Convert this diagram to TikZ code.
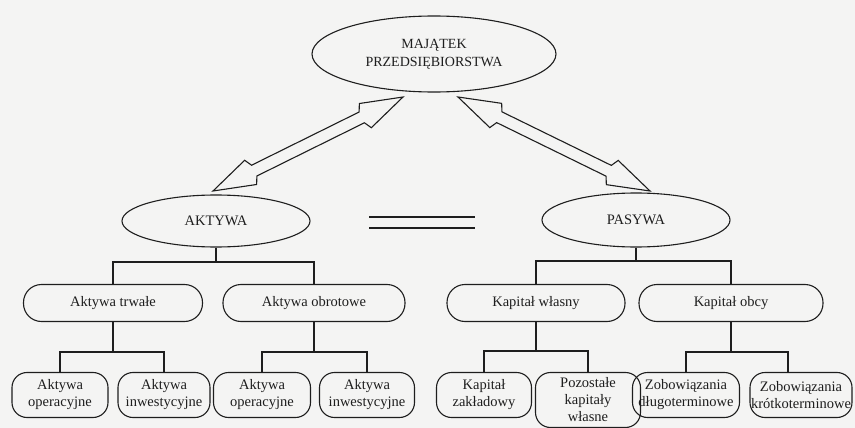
\documentclass[tikz,border=0pt]{standalone}
\usepackage{fontspec}
\setmainfont{Liberation Serif}
\usetikzlibrary{shapes.geometric,calc}
\definecolor{paper}{RGB}{244,244,243}
\definecolor{ink}{RGB}{30,30,30}

% hollow double-headed arrow between two named points
\newcommand\hollowdarrow[2]{%
  \draw[arrowline] (#1)
    -- ($(#1)!42pt!(#2)!13.5pt!90:(#2)$)
    -- ($(#1)!46pt!(#2)!6pt!90:(#2)$)
    -- ($(#2)!46pt!(#1)!6pt!-90:(#1)$)
    -- ($(#2)!42pt!(#1)!13.5pt!-90:(#1)$)
    -- (#2)
    -- ($(#2)!42pt!(#1)!13.5pt!90:(#1)$)
    -- ($(#2)!46pt!(#1)!6pt!90:(#1)$)
    -- ($(#1)!46pt!(#2)!6pt!-90:(#2)$)
    -- ($(#1)!42pt!(#2)!13.5pt!-90:(#2)$)
    -- cycle;}

\tikzset{
  base/.style={draw=ink, line width=1.1pt, text=ink, inner sep=0pt, align=center,
    font=\fontsize{14.5}{17}\selectfont},
  oval/.style={base, ellipse},
  pill/.style={base, rounded corners=18pt, minimum height=37pt},
  leaf/.style={base, rounded corners=15pt, minimum height=45pt},
  link/.style={draw=ink, line width=1.1pt},
  arrowline/.style={draw=ink, line width=1.1pt, line join=miter, fill=paper},
}

\begin{document}
\begin{tikzpicture}[x=1pt, y=-1pt]
\fill[paper] (0,0) rectangle (855,428);
\useasboundingbox (0,0) rectangle (855,428);

% top level
\node[oval, minimum width=244pt, minimum height=76pt,
      font=\fontsize{14}{18}\selectfont] (top) at (434,54) {MAJĄTEK\\PRZEDSIĘBIORSTWA};

% second level
\node[oval, minimum width=188pt, minimum height=52pt] (akt) at (216,221) {AKTYWA};
\node[oval, minimum width=188pt, minimum height=54pt] (pas) at (636,220) {PASYWA};

% double-headed arrows
\coordinate (al) at (403,97);
\coordinate (ar) at (213,191);
\coordinate (bl) at (458,97);
\coordinate (br) at (650,191);
\hollowdarrow{al}{ar}
\hollowdarrow{bl}{br}

% equality sign
\coordinate (e1) at (369,217);
\coordinate (e2) at (475,217);
\coordinate (e3) at (369,228);
\coordinate (e4) at (475,228);
\draw[link, line width=1.4pt] (e1) -- (e2);
\draw[link, line width=1.4pt] (e3) -- (e4);

% third level
\node[pill, minimum width=179pt] (trw) at (113,303) {Aktywa trwałe};
\node[pill, minimum width=182pt] (obr) at (314,303) {Aktywa obrotowe};
\node[pill, minimum width=178pt] (wl)  at (536,303) {Kapitał własny};
\node[pill, minimum width=184pt] (obc) at (731,303) {Kapitał obcy};

% fourth level
\node[leaf, minimum width=96pt]  (t1) at (60,395)  {Aktywa\\operacyjne};
\node[leaf, minimum width=92pt]  (t2) at (164,395) {Aktywa\\inwestycyjne};
\node[leaf, minimum width=97pt]  (o1) at (262,395) {Aktywa\\operacyjne};
\node[leaf, minimum width=95pt]  (o2) at (367,395) {Aktywa\\inwestycyjne};
\node[leaf, minimum width=95pt]  (w1) at (484,395) {Kapitał\\zakładowy};
\node[leaf, minimum width=105pt, minimum height=55pt] (w2) at (588,400) {Pozostałe\\kapitały\\własne};
\node[leaf, minimum width=107pt] (c1) at (686,395) {Zobowiązania\\długoterminowe};
\node[leaf, minimum width=102pt] (c2) at (801,395) {Zobowiązania\\krótkoterminowe};

% tree junctions
\coordinate (ja) at (216,262);
\coordinate (jp) at (636,261);
\coordinate (jt) at (113,352);
\coordinate (jo) at (314,352);
\coordinate (jw) at (536,351);
\coordinate (jc) at (731,352);

% connectors
\draw[link] (akt.south) -- (ja);
\draw[link] (trw.north) |- (ja) -| (obr.north);
\draw[link] (pas.south) -- (jp);
\draw[link] (wl.north) |- (jp) -| (obc.north);

\draw[link] (trw.south) -- (jt);
\draw[link] (t1.north) |- (jt) -| (t2.north);
\draw[link] (obr.south) -- (jo);
\draw[link] (o1.north) |- (jo) -| (o2.north);
\draw[link] (wl.south) -- (jw);
\draw[link] (w1.north) |- (jw) -| (w2.north);
\draw[link] (obc.south) -- (jc);
\draw[link] (c1.north) |- (jc) -| ([xshift=-13pt]c2.north);
\end{tikzpicture}
\end{document}
